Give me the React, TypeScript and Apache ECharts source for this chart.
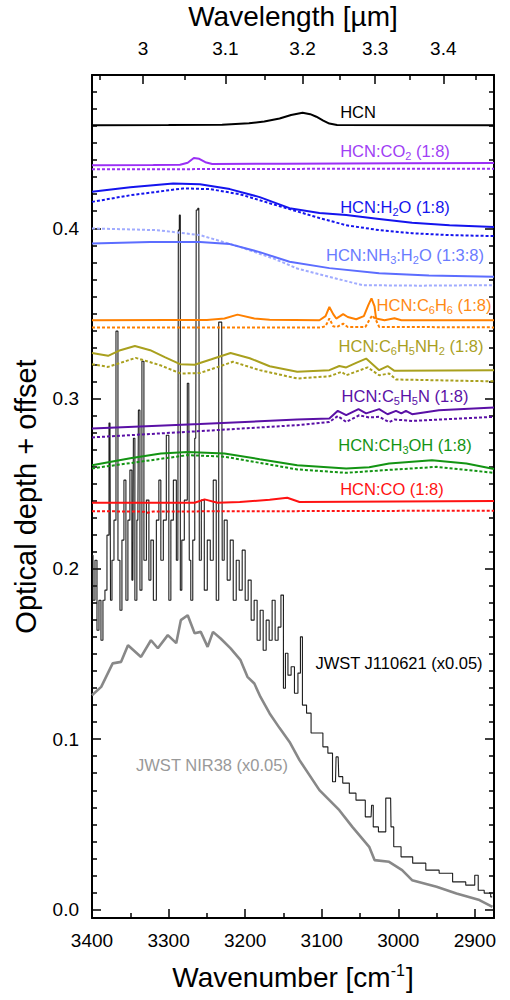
import React, { useEffect, useRef } from "react";
import * as echarts from "echarts";

const FONT = "'Liberation Sans', Arial, Helvetica, sans-serif";

// ---- axis ticks ----
const wavenumberTicks = [2900, 3000, 3100, 3200, 3300, 3400];
const wavenumberMinorTicks = [2950, 3050, 3150, 3250, 3350];
const wavelengthTicks = [3.0, 3.1, 3.2, 3.3, 3.4];
const wavelengthMinorTicks = [2.95, 3.05, 3.15, 3.25, 3.35, 3.45];
const depthTicks = [0, 0.1, 0.2, 0.3, 0.4];
const depthMinorTicks = [
  0.01, 0.02, 0.03, 0.04, 0.05, 0.06, 0.07, 0.08, 0.09,
  0.11, 0.12, 0.13, 0.14, 0.15, 0.16, 0.17, 0.18, 0.19,
  0.21, 0.22, 0.23, 0.24, 0.25, 0.26, 0.27, 0.28, 0.29,
  0.31, 0.32, 0.33, 0.34, 0.35, 0.36, 0.37, 0.38, 0.39,
  0.41, 0.42, 0.43, 0.44, 0.45, 0.46, 0.47, 0.48,
];

// ---- series data: [wavenumber cm-1, optical depth + offset] ----
const hcn = [[3400,0.4605],[3300,0.4606],[3230,0.4608],[3195,0.4616],[3175,0.4627],[3155,0.4645],[3140,0.4665],[3125,0.4678],[3115,0.467],[3107,0.4655],[3098,0.4632],[3090,0.4615],[3080,0.4606],[2875,0.4605]];

const co2Solid = [[3400,0.437],[3320,0.4371],[3285,0.4373],[3275,0.4385],[3267,0.4413],[3260,0.4408],[3252,0.4388],[3243,0.4377],[3150,0.4379],[3000,0.4382],[2875,0.4384]];
const co2Dash = [[3400,0.4346],[3200,0.4348],[3000,0.435],[2875,0.435]];

const h2oSolid = [[3400,0.4214],[3350,0.4241],[3294,0.4263],[3259,0.4259],[3220,0.423],[3181,0.4183],[3142,0.4118],[3103,0.409],[3068,0.4078],[3025,0.4055],[2982,0.4032],[2933,0.4018],[2875,0.4008]];
const h2oDash = [[3400,0.4155],[3350,0.4194],[3281,0.4234],[3246,0.423],[3207,0.42],[3168,0.4147],[3129,0.4095],[3103,0.406],[3068,0.4018],[3025,0.3989],[2982,0.3971],[2933,0.396],[2875,0.3954]];

const nh3Solid = [[3400,0.391],[3324,0.3919],[3259,0.392],[3220,0.3907],[3181,0.386],[3142,0.3803],[3090,0.3766],[3025,0.3736],[2960,0.3722],[2875,0.3715]];
const nh3Dash = [[3400,0.3999],[3315,0.3989],[3259,0.396],[3207,0.3891],[3161,0.3819],[3132,0.3764],[3090,0.3715],[3047,0.3666],[2973,0.3663],[2875,0.3666]];

const c6h6Solid = [[3400,0.346],[3300,0.3461],[3250,0.3462],[3227,0.347],[3210,0.3493],[3188,0.347],[3168,0.3463],[3103,0.346],[3095,0.3484],[3090,0.3538],[3085,0.3496],[3081,0.347],[3076,0.3484],[3072,0.3496],[3066,0.3479],[3055,0.3466],[3045,0.3484],[3039,0.355],[3035,0.3588],[3031,0.3542],[3029,0.347],[3018,0.346],[3005,0.3472],[2996,0.346],[2875,0.346]];
const c6h6Dash = [[3400,0.3418],[3100,0.3418],[3095,0.3425],[3090,0.347],[3085,0.3425],[3080,0.342],[3072,0.344],[3066,0.342],[3043,0.342],[3038,0.346],[3034,0.3489],[3029,0.346],[3025,0.3421],[2875,0.3418]];

const anilineSolid = [[3400,0.3268],[3379,0.3251],[3363,0.3284],[3344,0.3309],[3324,0.3284],[3305,0.3243],[3285,0.3202],[3266,0.3199],[3244,0.3231],[3219,0.3268],[3194,0.3237],[3168,0.319],[3132,0.3157],[3090,0.3167],[3077,0.3191],[3068,0.3183],[3055,0.321],[3042,0.3235],[3025,0.3167],[3014,0.3191],[3005,0.3163],[2875,0.3167]];
const anilineDash = [[3400,0.3202],[3379,0.3186],[3343,0.3239],[3311,0.3196],[3284,0.3147],[3259,0.315],[3216,0.3216],[3181,0.3167],[3132,0.3118],[3090,0.3131],[3074,0.3157],[3068,0.3137],[3040,0.3183],[3025,0.3137],[3012,0.3147],[3003,0.3112],[2875,0.3101]];

const pyridineSolid = [[3400,0.2824],[3259,0.285],[3132,0.2877],[3090,0.2883],[3079,0.2928],[3068,0.2903],[3052,0.2938],[3042,0.2913],[3025,0.2938],[3014,0.2908],[3003,0.2928],[2996,0.2913],[2990,0.2928],[2982,0.2908],[2947,0.2932],[2875,0.2948]];
const pyridineDash = [[3400,0.2772],[3259,0.2809],[3132,0.2844],[3090,0.2863],[3079,0.2897],[3068,0.2863],[3051,0.2902],[3038,0.2889],[3025,0.2893],[3012,0.2862],[3005,0.2877],[2982,0.2869],[2875,0.2893]];

const methanolSolid = [[3400,0.2609],[3350,0.265],[3310,0.2678],[3275,0.2687],[3227,0.2678],[3181,0.2644],[3132,0.2609],[3068,0.259],[3038,0.2597],[3012,0.2619],[2956,0.2638],[2911,0.2619],[2875,0.2586]];
const methanolDash = [[3400,0.259],[3275,0.2668],[3227,0.2659],[3132,0.2584],[3068,0.2564],[3016,0.258],[2950,0.2599],[2875,0.2564]];

const coSolid = [[3400,0.2388],[3266,0.2388],[3253,0.2408],[3236,0.2388],[3207,0.2392],[3168,0.2406],[3145,0.2418],[3129,0.2393],[2875,0.2398]];
const coDash = [[3400,0.2339],[3332,0.2336],[3327,0.233],[3320,0.2337],[2875,0.2342]];

const nir38 = [[3400,0.1258],[3388,0.1307],[3373,0.1445],[3362,0.1454],[3353,0.1552],[3336,0.1483],[3323,0.1581],[3314,0.1534],[3301,0.1611],[3290,0.1564],[3284,0.1699],[3275,0.1728],[3266,0.1622],[3258,0.163],[3249,0.1542],[3242,0.163],[3232,0.1591],[3219,0.1533],[3206,0.1464],[3197,0.1366],[3188,0.1327],[3180,0.1248],[3168,0.1151],[3155,0.1065],[3142,0.0984],[3129,0.0877],[3103,0.0701],[3077,0.0583],[3060,0.0485],[3038,0.0368],[3031,0.029],[3012,0.028],[2995,0.0231],[2982,0.0172],[2950,0.0133],[2924,0.0094],[2894,0.0055],[2877,0.0015]];

const j110621 = [[3400,0.208],[3397.4,0.1816],[3394.8,0.2051],[3392.2,0.164],[3389.6,0.1816],[3387,0.1581],[3384.4,0.1816],[3381.8,0.1875],[3379.1,0.2198],[3376.5,0.2856],[3375.2,0.1816],[3372.6,0.2051],[3370,0.2286],[3367.4,0.3396],[3364.8,0.2051],[3362.2,0.1757],[3359.6,0.2169],[3357,0.2521],[3354.4,0.1816],[3351.8,0.2286],[3349.2,0.258],[3346.6,0.1934],[3345.3,0.2767],[3342.7,0.1816],[3340.1,0.2286],[3338.7,0.2932],[3336.1,0.1875],[3333.5,0.3219],[3330.9,0.2051],[3327,0.2404],[3324.4,0.1934],[3321.8,0.2169],[3317.9,0.1816],[3314,0.2286],[3311.4,0.2521],[3308.8,0.2051],[3304.9,0.2286],[3301,0.2785],[3298.3,0.1816],[3295.7,0.2286],[3291.8,0.2521],[3287.9,0.2051],[3286.6,0.3989],[3285.3,0.4077],[3284,0.1875],[3281.4,0.2169],[3277.5,0.2404],[3273.6,0.309],[3272.3,0.2051],[3269.7,0.1816],[3267.1,0.2169],[3264.5,0.2767],[3263.2,0.4107],[3260.5,0.4118],[3259.2,0.2051],[3255.3,0.2404],[3251.4,0.1875],[3247.5,0.2169],[3243.6,0.2051],[3239.7,0.2521],[3235.8,0.1816],[3233.2,0.3449],[3230.6,0.3449],[3229.3,0.2051],[3225.4,0.2286],[3221.5,0.1934],[3217.5,0.2169],[3213.6,0.1816],[3209.7,0.2051],[3205.8,0.1875],[3201.9,0.211],[3198,0.1816],[3194.1,0.1934],[3190.2,0.1699],[3186.3,0.1816],[3182.4,0.1581],[3178.4,0.1757],[3174.5,0.1522],[3170.6,0.1699],[3166.7,0.1581],[3162.8,0.1816],[3158.9,0.1581],[3155,0.1658],[3151.5,0.1846],[3148.5,0.1299],[3146.3,0.1505],[3141.9,0.1376],[3138,0.1425],[3133.2,0.127],[3128.9,0.1388],[3126.7,0.1601],[3123.7,0.12],[3115.9,0.1153],[3111.9,0.1036],[3102.8,0.1036],[3094.1,0.0955],[3089.8,0.0918],[3082,0.075],[3080.5,0.0896],[3078.5,0.0896],[3077,0.078],[3068.1,0.0742],[3059.8,0.0683],[3050.7,0.0642],[3035.5,0.0544],[3034.2,0.0612],[3031.2,0.0485],[3020.7,0.0456],[3012,0.0654],[3010,0.0654],[3009,0.0485],[3002.9,0.0368],[2989.9,0.0309],[2972.5,0.0272],[2955.6,0.0231],[2937.7,0.0213],[2920.4,0.0162],[2903.4,0.0143],[2896.9,0.0201],[2894.3,0.0113],[2881.3,0.0096],[2877.4,0.0074]];

// ---- styles ----
const C = {
  hcn: "#000000",
  co2: "#9a30f5",
  h2o: "#1414ee",
  nh3: "#5c6dff",
  nh3d: "#a0abff",
  c6h6: "#ff8000",
  aniline: "#a9a01e",
  pyridine: "#5a10a6",
  methanol: "#139413",
  co: "#ff1212",
  jwst: "#1e1e1e",
  nir: "#888888",
};

function line(name: string, data: number[][], color: string, dashed = false, width = 2, extra: any = {}) {
  return {
    name,
    type: "line",
    data,
    xAxisIndex: 0,
    yAxisIndex: 0,
    showSymbol: false,
    symbol: "none",
    silent: true,
    clip: true,
    lineStyle: { color, width, type: dashed ? [3, 2] : "solid" },
    ...extra,
  };
}

const axisLineStyle = { color: "#000", width: 2 };

export default function App() {
  const ref = useRef<HTMLDivElement>(null);
  useEffect(() => {
    document.body.style.margin = "0";
    const chart = echarts.init(ref.current!, null, { renderer: "svg" });
    const xBase = { type: "value", min: 2875, max: 3400, inverse: true, gridIndex: 0, splitLine: { show: false } };
    const yBase = { type: "value", min: -0.005, max: 0.49, gridIndex: 0, splitLine: { show: false } };
    const tickLbl = { fontSize: 19, color: "#000", fontFamily: FONT };
    const labelBase = { fontSize: 16.5, fontFamily: FONT, textAlign: "center", textVerticalAlign: "middle" };
    const sub = { fontSize: 11, fontFamily: FONT, padding: [10, 0, 0, 0] };
    const mk = (text: string, x: number, y: number, color: string) => ({
      type: "text",
      x,
      y,
      silent: true,
      style: {
        text,
        fill: color,
        ...labelBase,
        rich: {
          n: { fontSize: 16.5, fontFamily: FONT, fill: color },
          s: { ...sub, fill: color },
        },
      },
    });

    chart.setOption({
      animation: false,
      backgroundColor: "#ffffff",
      textStyle: { fontFamily: FONT },
      grid: { left: 92, right: 16, top: 75, bottom: 82, containLabel: false },
      xAxis: [
        {
          ...xBase,
          position: "bottom",
          axisLine: { show: true, onZero: false, lineStyle: axisLineStyle },
          axisTick: { show: true, inside: true, length: 9, customValues: wavenumberTicks, lineStyle: { color: "#000", width: 1.5 } },
          axisLabel: { show: true, customValues: wavenumberTicks, margin: 13, formatter: (v: number) => String(Math.round(v)), ...tickLbl },
        },
        {
          ...xBase,
          position: "bottom",
          axisLine: { show: false, onZero: false },
          axisTick: { show: true, inside: true, length: 5, customValues: wavenumberMinorTicks, lineStyle: { color: "#000", width: 1.5 } },
          axisLabel: { show: false },
        },
        {
          ...xBase,
          position: "top",
          axisLine: { show: true, onZero: false, lineStyle: axisLineStyle },
          axisTick: { show: true, inside: true, length: 9, customValues: wavelengthTicks.map((l) => 10000 / l), lineStyle: { color: "#000", width: 1.5 } },
          axisLabel: {
            show: true,
            customValues: wavelengthTicks.map((l) => 10000 / l),
            margin: 17,
            formatter: (v: number) => String(Number((10000 / v).toFixed(2))),
            ...tickLbl,
          },
        },
        {
          ...xBase,
          position: "top",
          axisLine: { show: false, onZero: false },
          axisTick: { show: true, inside: true, length: 5, customValues: wavelengthMinorTicks.map((l) => 10000 / l), lineStyle: { color: "#000", width: 1.5 } },
          axisLabel: { show: false },
        },
      ],
      yAxis: [
        {
          ...yBase,
          position: "left",
          axisLine: { show: true, onZero: false, lineStyle: axisLineStyle },
          axisTick: { show: true, inside: true, length: 9, customValues: depthTicks, lineStyle: { color: "#000", width: 1.5 } },
          axisLabel: { show: true, customValues: depthTicks, margin: 13, formatter: (v: number) => v.toFixed(1), ...tickLbl },
          name: "Optical depth + offset",
          nameLocation: "middle",
          nameRotate: 90,
          nameGap: 52,
          nameTextStyle: { fontSize: 29, color: "#000", fontFamily: FONT },
        },
        {
          ...yBase,
          position: "left",
          axisLine: { show: false, onZero: false },
          axisTick: { show: true, inside: true, length: 5, customValues: depthMinorTicks, lineStyle: { color: "#000", width: 1.5 } },
          axisLabel: { show: false },
        },
        {
          ...yBase,
          position: "right",
          axisLine: { show: true, onZero: false, lineStyle: axisLineStyle },
          axisTick: { show: true, inside: true, length: 9, customValues: depthTicks, lineStyle: { color: "#000", width: 1.5 } },
          axisLabel: { show: false },
        },
        {
          ...yBase,
          position: "right",
          axisLine: { show: false, onZero: false },
          axisTick: { show: true, inside: true, length: 5, customValues: depthMinorTicks, lineStyle: { color: "#000", width: 1.5 } },
          axisLabel: { show: false },
        },
      ],
      series: [
        line("JWST NIR38 (x0.05)", nir38, C.nir, false, 2.6),
        line("JWST J110621 (x0.05)", j110621, C.jwst, false, 1.1, { step: "middle" }),
        line("HCN:CO dash", coDash, C.co, true),
        line("HCN:CO (1:8)", coSolid, C.co),
        line("HCN:CH3OH dash", methanolDash, C.methanol, true),
        line("HCN:CH3OH (1:8)", methanolSolid, C.methanol),
        line("HCN:C5H5N dash", pyridineDash, C.pyridine, true),
        line("HCN:C5H5N (1:8)", pyridineSolid, C.pyridine),
        line("HCN:C6H5NH2 dash", anilineDash, C.aniline, true),
        line("HCN:C6H5NH2 (1:8)", anilineSolid, C.aniline),
        line("HCN:C6H6 dash", c6h6Dash, C.c6h6, true),
        line("HCN:C6H6 (1:8)", c6h6Solid, C.c6h6),
        line("HCN:NH3:H2O dash", nh3Dash, C.nh3d, true),
        line("HCN:NH3:H2O (1:3:8)", nh3Solid, C.nh3),
        line("HCN:H2O dash", h2oDash, C.h2o, true),
        line("HCN:H2O (1:8)", h2oSolid, C.h2o),
        line("HCN:CO2 dash", co2Dash, C.co2, true),
        line("HCN:CO2 (1:8)", co2Solid, C.co2),
        line("HCN", hcn, C.hcn),
      ],
      graphic: [
        {
          type: "text",
          x: 293,
          y: 16,
          silent: true,
          style: { text: "Wavelength [\u00b5m]", fill: "#000", fontSize: 28, fontFamily: FONT, textAlign: "center", textVerticalAlign: "middle" },
        },
        {
          type: "text",
          x: 293,
          y: 977,
          silent: true,
          style: {
            text: "{n|Wavenumber [cm}{p|-1}{n|]}",
            fill: "#000",
            fontSize: 28,
            fontFamily: FONT,
            textAlign: "center",
            textVerticalAlign: "middle",
            rich: {
              n: { fontSize: 28, fontFamily: FONT, fill: "#000" },
              p: { fontSize: 16, fontFamily: FONT, fill: "#000", padding: [0, 1, 14, 0] },
            },
          },
        },
        mk("{n|HCN}", 358, 112, C.hcn),
        mk("{n|HCN:CO}{s|2}{n| (1:8)}", 395, 151, "#a040f5"),
        mk("{n|HCN:H}{s|2}{n|O (1:8)}", 395, 207, C.h2o),
        mk("{n|HCN:NH}{s|3}{n|:H}{s|2}{n|O (1:3:8)}", 405, 255, "#6a7bff"),
        mk("{n|HCN:C}{s|6}{n|H}{s|6}{n| (1:8)}", 434, 305, "#ff8a14"),
        mk("{n|HCN:C}{s|6}{n|H}{s|5}{n|NH}{s|2}{n| (1:8)}", 411, 346, C.aniline),
        mk("{n|HCN:C}{s|5}{n|H}{s|5}{n|N (1:8)}", 405, 396, C.pyridine),
        mk("{n|HCN:CH}{s|3}{n|OH (1:8)}", 405, 445, C.methanol),
        mk("{n|HCN:CO (1:8)}", 392, 489, C.co),
        mk("{n|JWST J110621 (x0.05)}", 399, 663, "#000"),
        mk("{n|JWST NIR38 (x0.05)}", 212, 765, "#999999"),
      ],
    });
    return () => chart.dispose();
  }, []);
  return <div ref={ref} style={{ width: 510, height: 1000 }} />;
}
